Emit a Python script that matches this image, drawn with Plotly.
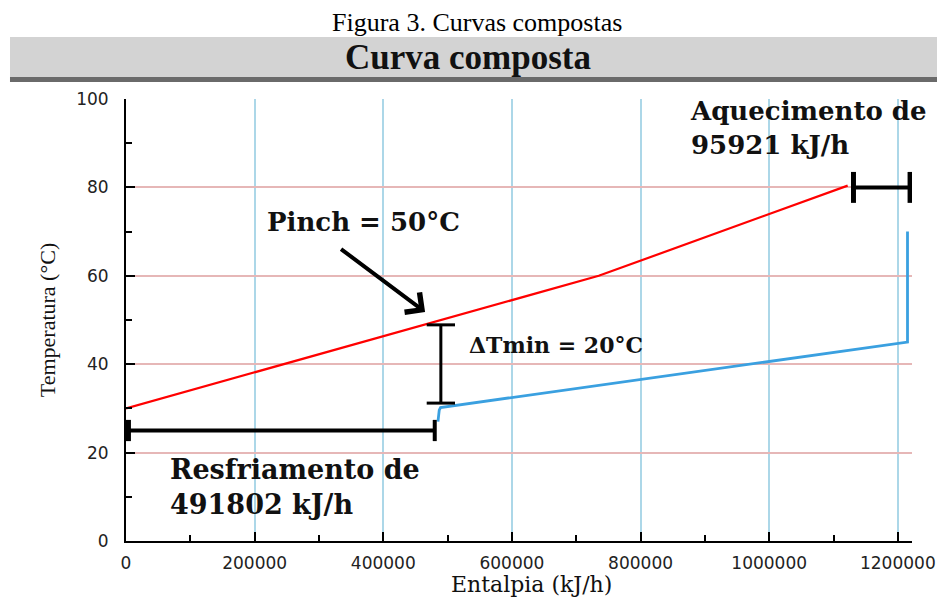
import plotly.graph_objects as go

# ---- data ----
hot_enthalpy = [0, 735000, 1122000]
hot_temp = [30, 60, 80.4]

cold_enthalpy = [485000, 487000, 489000, 1215000, 1215000]
cold_temp = [27, 29.6, 30.2, 45, 70]

# annotation values
cooling_bar = [0, 480000, 25]          # x0, x1, y
heating_bar = [1131000, 1219000, 80]   # x0, x1, y
dtmin_bar = [489500, 31.2, 48.9]       # x, y0, y1
pinch_arrow = [332000, 66.3, 465000, 51.8]  # tail x,y ; tip x,y

x_ticks = [0, 200000, 400000, 600000, 800000, 1000000, 1200000]
y_ticks = [0, 20, 40, 60, 80, 100]

title_top = "Figura 3. Curvas compostas"
title_band = "Curva composta"
x_title = "Entalpia (kJ/h)"
y_title = "Temperatura (°C)"
txt_pinch = "Pinch = 50°C"
txt_dtmin = "ΔTmin = 20°C"
txt_cool = "Resfriamento de<br>491802 kJ/h"
txt_heat = "Aquecimento de<br>95921 kJ/h"

fig = go.Figure()
fig.add_trace(go.Scatter(x=hot_enthalpy, y=hot_temp, mode="lines",
                         line=dict(color="#ff0000", width=2.2),
                         showlegend=False, hoverinfo="skip"))
fig.add_trace(go.Scatter(x=cold_enthalpy, y=cold_temp, mode="lines",
                         line=dict(color="#3aa0e0", width=2.8),
                         showlegend=False, hoverinfo="skip"))

shapes = []
blk = "#000000"
# cooling bracket
cx0, cx1, cy = cooling_bar
shapes.append(dict(type="line", xref="x", yref="y", x0=cx0, x1=cx1, y0=cy, y1=cy,
                   line=dict(color=blk, width=4)))
shapes.append(dict(type="line", xref="x", yref="y", x0=cx0 + 3000, x1=cx0 + 3000,
                   y0=cy - 2.4, y1=cy + 2.4, line=dict(color=blk, width=6)))
shapes.append(dict(type="line", xref="x", yref="y", x0=cx1, x1=cx1,
                   y0=cy - 2.4, y1=cy + 2.4, line=dict(color=blk, width=4)))
# heating bracket
hx0, hx1, hy = heating_bar
shapes.append(dict(type="line", xref="x", yref="y", x0=hx0, x1=hx1, y0=hy, y1=hy,
                   line=dict(color=blk, width=4)))
for xx in (hx0, hx1):
    shapes.append(dict(type="line", xref="x", yref="y", x0=xx, x1=xx,
                       y0=hy - 3.5, y1=hy + 3.5, line=dict(color=blk, width=5)))
# dTmin bracket
dx, dy0, dy1 = dtmin_bar
shapes.append(dict(type="line", xref="x", yref="y", x0=dx, x1=dx, y0=dy0, y1=dy1,
                   line=dict(color=blk, width=3)))
for yy in (dy0, dy1):
    shapes.append(dict(type="line", xref="x", yref="y", x0=dx - 22000, x1=dx + 22000,
                       y0=yy, y1=yy, line=dict(color=blk, width=3)))
# title band
shapes.append(dict(type="rect", xref="paper", yref="paper", x0=-0.1476, x1=1.05,
                   y0=1.0498, y1=1.1403, fillcolor="#d3d3d3", line=dict(width=0),
                   layer="below"))
shapes.append(dict(type="rect", xref="paper", yref="paper", x0=-0.1476, x1=1.05,
                   y0=1.0385, y1=1.0498, fillcolor="#6a6a6a", line=dict(width=0),
                   layer="below"))

bold = dict(family="DejaVu Serif", size=26, color="#111111")
annotations = [
    dict(text=title_top, xref="paper", yref="paper", x=0.4466, y=1.1742,
         showarrow=False, xanchor="center", yanchor="middle",
         font=dict(family="Liberation Serif", size=26, color="#000000")),
    dict(text="<b>" + title_band + "</b>", xref="paper", yref="paper", x=0.4357, y=1.095,
         showarrow=False, xanchor="center", yanchor="middle",
         font=dict(family="Liberation Serif", size=35, color="#111111")),
    dict(text=x_title, xref="paper", yref="paper", x=0.5165, y=-0.0995,
         showarrow=False, xanchor="center", yanchor="middle",
         font=dict(family="DejaVu Serif", size=22, color="#111111")),
    dict(text="<b>" + txt_pinch + "</b>", xref="x", yref="y", x=216000, y=72.2,
         showarrow=False, xanchor="left", yanchor="middle", font=bold),
    dict(text="<b>" + txt_dtmin + "</b>", xref="x", yref="y", x=530000, y=44.3,
         showarrow=False, xanchor="left", yanchor="middle",
         font=dict(family="DejaVu Serif", size=22, color="#111111")),
    dict(text="<b>" + txt_cool + "</b>", xref="x", yref="y", x=65000, y=12.2,
         showarrow=False, xanchor="left", yanchor="middle", align="left",
         font=dict(family="DejaVu Serif", size=27, color="#111111")),
    dict(text="<b>" + txt_heat + "</b>", xref="x", yref="y", x=873000, y=93.5,
         showarrow=False, xanchor="left", yanchor="middle", align="left", font=bold),
    dict(text="", xref="x", yref="y", axref="x", ayref="y",
         x=pinch_arrow[2], y=pinch_arrow[3], ax=pinch_arrow[0], ay=pinch_arrow[1],
         showarrow=True, arrowhead=4, arrowsize=1.2, arrowwidth=4, arrowcolor=blk),
]

fig.update_layout(
    width=937, height=600,
    margin=dict(l=126, r=25, t=99, b=59),
    paper_bgcolor="white", plot_bgcolor="white",
    shapes=shapes, annotations=annotations,
    showlegend=False,
)
fig.update_xaxes(
    range=[0, 1222000], tickvals=x_ticks, tickformat="d", automargin=False,
    ticks="inside", ticklen=9, tickwidth=1.5, tickcolor="black",
    showline=True, linecolor="black", linewidth=2,
    showgrid=True, gridcolor="#acd7e8", gridwidth=1.5, zeroline=False,
    minor=dict(dtick=100000, ticks="inside", ticklen=6, tickcolor="black", showgrid=False),
    tickfont=dict(family="DejaVu Sans", size=17, color="#222222"),
    ticklabelstandoff=6, ticklabeloverflow="allow",
)
fig.update_yaxes(
    range=[0, 100], tickvals=y_ticks, automargin=False,
    ticks="inside", ticklen=9, tickwidth=1.5, tickcolor="black",
    showline=True, linecolor="black", linewidth=2,
    showgrid=True, gridcolor="#e6b7b7", gridwidth=1.5, zeroline=False,
    minor=dict(dtick=10, ticks="inside", ticklen=6, tickcolor="black", showgrid=False),
    tickfont=dict(family="DejaVu Sans", size=17, color="#222222"),
    ticklabelstandoff=12,
    title=dict(text=y_title, font=dict(family="Liberation Serif", size=22, color="#111111"),
               standoff=14),
)

# remove the browser's default 8px body margin so the 937x600 figure fills the window
fig.write_html("out.html", config={"displayModeBar": False},
               post_script="document.body.style.margin='0px';document.body.style.overflow='hidden';")
